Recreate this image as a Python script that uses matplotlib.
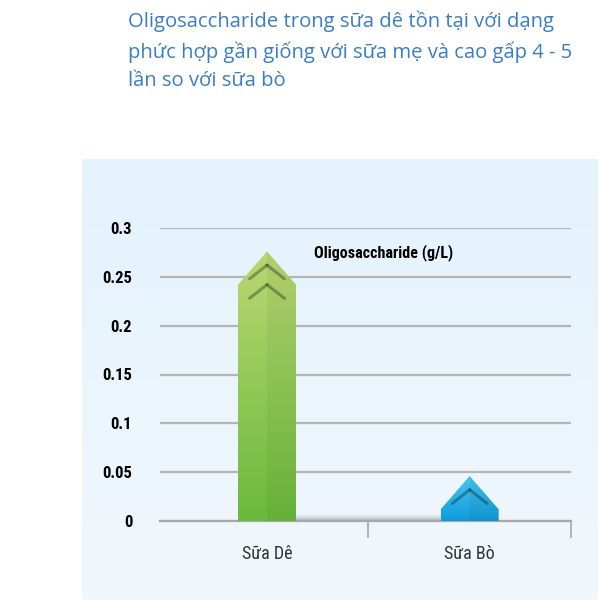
import numpy as np
import matplotlib.pyplot as plt
from matplotlib.patches import Polygon
from matplotlib.colors import LinearSegmentedColormap
from matplotlib import font_manager

# ── Data ────────────────────────────────────────────────────────────────────
categories = ['Sữa Dê', 'Sữa Bò']
values = [0.276, 0.046]          # tip of each arrow-bar (g/L)
yticks = [0, 0.05, 0.1, 0.15, 0.2, 0.25, 0.3]
ytick_labels = ['0', '0.05', '0.1', '0.15', '0.2', '0.25', '0.3']
series_label = 'Oligosaccharide (g/L)'
title = ('Oligosaccharide trong sữa dê tồn tại với dạng\n'
         'phức hợp gần giống với sữa mẹ và cao gấp 4 - 5\n'
         'lần so với sữa bò')

bar_colors = [('#6ab93c', '#b9d872'), ('#0f9bd9', '#48c6f3')]   # (bottom, top)
head = 0.034
width = 0.286

# pick a condensed face if one is installed
names = {f.name for f in font_manager.fontManager.ttflist}
cond = [n for n in ['DejaVu Sans Condensed', 'Liberation Sans Narrow',
                    'Roboto Condensed', 'Open Sans Condensed'] if n in names]
narrow = (cond[:1] or ['DejaVu Sans']) + ['DejaVu Sans']

fig = plt.figure(figsize=(6, 6), dpi=100)

# ── Light-blue background panel ────────────────────────────────────────────
bg = fig.add_axes([82/600, 0, 516/600, 441/600])
grad = np.linspace(0, 1, 256).reshape(-1, 1)
bg_cmap = LinearSegmentedColormap.from_list('bg', ['#e4f2fc', '#f1f8fd'])
bg.imshow(grad, aspect='auto', cmap=bg_cmap, extent=[0, 1, 0, 1],
          origin='upper', interpolation='bilinear')
bg.axis('off')

# ── Chart axes ──────────────────────────────────────────────────────────────
ax = fig.add_axes([160/600, 1 - 521/600, 411/600, 293/600])
ax.patch.set_alpha(0)

# soft shadow along the baseline
shadow = np.linspace(0.35, 0, 20).reshape(-1, 1)
ax.imshow(np.dstack([np.full_like(shadow, 0.3)] * 3 + [shadow]),
          extent=[0.05, 1.0, 0.0, 0.007], aspect='auto', zorder=1,
          origin='lower')

for i, (v, (c0, c1)) in enumerate(zip(values, bar_colors)):
    x0, x1 = i - width/2, i + width/2
    shoulder = v - head
    poly = Polygon([(x0, 0), (x0, shoulder), (i, v), (x1, shoulder), (x1, 0)],
                   closed=True, facecolor='none', edgecolor='none')
    ax.add_patch(poly)
    cmap = LinearSegmentedColormap.from_list('b%d' % i, [c0, c1])
    im = ax.imshow(grad[::-1], extent=[x0, x1, 0, v], aspect='auto', cmap=cmap,
                   origin='upper', zorder=3)
    im.set_clip_path(poly)
    # slightly darker right half
    right = Polygon([(i, 0), (i, v), (x1, shoulder), (x1, 0)], closed=True,
                    facecolor='black', alpha=0.04, edgecolor='none', zorder=4)
    ax.add_patch(right)
    # inner chevrons
    n_chev = 2 if v > 0.1 else 1
    for k in range(n_chev):
        tip = v - 0.014 - k * 0.02
        for side in (-1, 1):
            ax.plot([i, i + side * width * 0.3], [tip, tip - 0.014],
                    color='black', alpha=0.3, lw=2.2, zorder=5,
                    solid_capstyle='round')

ax.set_xlim(-0.528, 1.5)
ax.set_ylim(0, 0.3)

ax.set_yticks(yticks)
ax.set_yticklabels(ytick_labels, family=narrow, fontweight='bold', fontsize=12,
                   fontstretch='condensed')
ax.yaxis.grid(True, color='#b5b5b5', lw=1.6, zorder=0)
ax.set_axisbelow(True)
ax.tick_params(axis='y', length=0, pad=20)

ax.set_xticks([0, 1])
ax.set_xticklabels(categories, fontsize=13, color='#333333', family=narrow,
                   fontstretch='condensed')
ax.set_xticks([0.5, 1.5], minor=True)
ax.tick_params(axis='x', which='major', length=0, pad=17)
ax.tick_params(axis='x', which='minor', length=12, width=1.5, color='#b5b5b5')

for s in ['top', 'right', 'left']:
    ax.spines[s].set_visible(False)
ax.spines['bottom'].set_color('#a8a8a8')
ax.spines['bottom'].set_linewidth(1.6)

ax.text(0.575, 0.275, series_label, ha='center', va='center',
        family=narrow, fontweight='bold', fontsize=11.6, fontstretch='condensed')

# ── Title ───────────────────────────────────────────────────────────────────
fig.text(128/600, 1 - 11/600, title, ha='left', va='top', color='#3b7dc3',
         fontsize=14.6, family='Open Sans', linespacing=1.55)

fig.savefig('out.png', dpi=100)
